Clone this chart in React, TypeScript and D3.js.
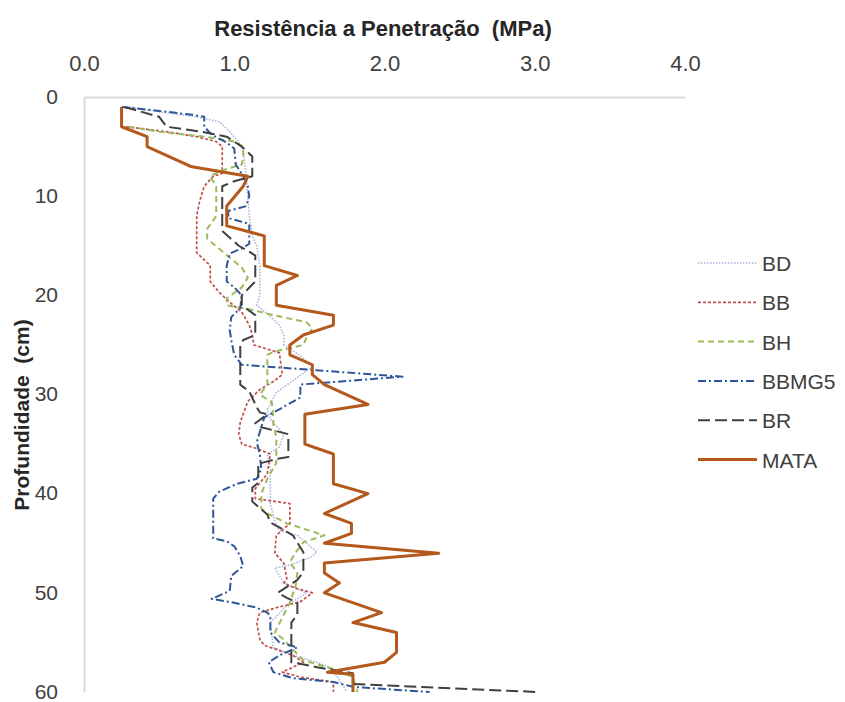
import { useRef, useEffect } from 'react';
import * as d3 from 'd3';

// depth (cm), resistance (MPa)
const BD: [number, number][] = [
  [1, 0.3], [1.5, 0.5], [2, 0.75], [2.5, 0.9], [3.5, 0.97], [4.5, 1.03], [5.5, 1.06], [8, 1.08],
  [12, 1.1], [14, 1.12], [15, 1.15], [17, 1.17], [20, 1.17], [21, 1.15], [22, 1.23], [23, 1.3],
  [24, 1.33], [25, 1.33], [26, 1.43], [27.2, 1.52], [28.5, 1.4], [29.8, 1.28], [31.5, 1.22],
  [32.5, 1.24], [34, 1.33], [35.3, 1.3], [36, 1.22], [37.5, 1.24], [41, 1.24], [42.8, 1.27],
  [43.7, 1.3], [44.2, 1.42], [45.9, 1.55], [46.5, 1.5], [47.2, 1.37], [47.5, 1.27], [49, 1.33],
  [50, 1.48], [51.3, 1.35], [53, 1.24], [55.5, 1.26], [56.3, 1.39], [57, 1.55], [57.6, 1.65],
  [60, 1.75],
];

const BB: [number, number][] = [
  [3, 0.28], [3.5, 0.55], [4, 0.75], [4.5, 0.88], [5, 0.92], [7.7, 0.92], [8, 0.86], [9, 0.8],
  [10.5, 0.77], [12, 0.75], [15.7, 0.75], [17, 0.84], [18.6, 0.84], [19.7, 0.9], [20.7, 0.97],
  [21.7, 1.05], [23, 1.1], [24, 1.12], [25, 1.13], [25.8, 1.3], [28, 1.32], [28.7, 1.26],
  [29.5, 1.17], [30.7, 1.09], [32.8, 1.04], [34, 1.03], [35, 1.05], [35.4, 1.14], [36, 1.24],
  [38, 1.22], [39.5, 1.14], [40.5, 1.14], [41, 1.37], [43, 1.37], [44.2, 1.28], [46, 1.27],
  [47, 1.33], [48.6, 1.35], [49, 1.33], [49.5, 1.4], [50, 1.52], [50.9, 1.44], [51.5, 1.28],
  [52, 1.17], [53, 1.15], [54.7, 1.17], [55.3, 1.2], [55.7, 1.28], [56.3, 1.39], [57, 1.46],
  [58, 1.32], [58.5, 1.44], [59, 1.66], [60, 1.66],
];

const BH: [number, number][] = [
  [3, 0.3], [3.5, 0.5], [4, 0.8], [4.5, 1.0], [5, 1.06], [6, 1.06], [6.8, 1.05], [7.5, 0.9],
  [8, 0.84], [9, 0.88], [12, 0.88], [13.3, 0.82], [14.3, 0.82], [15.3, 0.9], [16.2, 0.97],
  [17.2, 1.05], [18.2, 1.09], [19.2, 1.05], [20.3, 0.95], [21, 0.95], [21.4, 1.1], [22, 1.26],
  [22.7, 1.48], [23.3, 1.52], [24.3, 1.48], [25, 1.46], [25.7, 1.26], [26, 1.22], [29, 1.22],
  [30, 1.17], [30.8, 1.25], [32.4, 1.26], [33, 1.26], [34.3, 1.28], [36.9, 1.28], [38.5, 1.22],
  [40, 1.18], [41.5, 1.18], [42, 1.22], [43, 1.35], [44.2, 1.6], [44.9, 1.46], [45.9, 1.41],
  [46.9, 1.37], [48, 1.42], [49.2, 1.41], [51, 1.37], [52.5, 1.32], [54, 1.27], [54.7, 1.33],
  [55.4, 1.37], [56.8, 1.46], [57.6, 1.64], [58.5, 1.79], [60, 1.82],
];

const BBMG5: [number, number][] = [
  [1, 0.25], [1.4, 0.5], [1.8, 0.72], [2, 0.8], [3, 0.8], [3.8, 0.85], [4.6, 0.95], [5.2, 1.0],
  [6.8, 1.01], [8, 1.06], [9, 1.09], [10, 1.1], [11, 1.08], [11.5, 0.96], [12.2, 0.96],
  [12.8, 1.1], [14.8, 1.1], [15.2, 1.06], [15.8, 0.97], [17, 0.95], [18.6, 0.95], [19.2, 1.0],
  [20, 1.05], [21.3, 1.04], [22.2, 0.98], [23.5, 0.97], [24.5, 0.98], [26, 1.0], [27, 1.05],
  [27.5, 1.5], [28.2, 2.12], [29, 1.44], [30.3, 1.44], [31.5, 1.3], [32.3, 1.2], [34.8, 1.15],
  [36, 1.17], [37.5, 1.18], [38.5, 1.15], [39, 1.02], [39.8, 0.9], [40.5, 0.86], [44.5, 0.86],
  [44.8, 0.95], [45.3, 1.0], [46.3, 1.04], [47.3, 1.06], [48.3, 0.98], [49.8, 0.97], [50.6, 0.85],
  [51, 1.0], [51.5, 1.15], [52, 1.22], [52.3, 1.24], [54, 1.24], [55, 1.3], [55.5, 1.42],
  [56.3, 1.3], [57, 1.23], [58, 1.26], [58.6, 1.39], [59, 1.66], [59.5, 1.8], [60, 2.3],
];

const BR: [number, number][] = [
  [1, 0.27], [2, 0.5], [3, 0.55], [3.5, 0.78], [4, 0.95], [5, 1.05], [6, 1.12], [8, 1.12],
  [8.5, 1.0], [9, 0.92], [13.5, 0.92], [15, 1.03], [15.6, 1.1], [16, 1.14], [18.6, 1.14],
  [20, 1.05], [21, 1.05], [22, 1.14], [24, 1.14], [24.5, 1.06], [25, 1.04], [29, 1.04],
  [29.7, 1.1], [31.3, 1.15], [31.8, 1.17], [32, 1.22], [32.9, 1.14], [33.3, 1.18], [34, 1.36],
  [36.3, 1.36], [36.5, 1.28], [37, 1.16], [38.9, 1.16], [39.4, 1.12], [40.8, 1.12], [42.1, 1.22],
  [42.9, 1.24], [43.4, 1.3], [44.2, 1.39], [45.9, 1.46], [47.9, 1.46], [48.7, 1.42], [50, 1.29],
  [50.5, 1.35], [51, 1.42], [52.2, 1.42], [53, 1.38], [57, 1.38], [57.1, 1.42], [57.5, 1.55],
  [58.1, 1.79], [59.2, 1.79], [60, 3.02],
];

const MATA: [number, number][] = [
  [1, 0.25], [3, 0.25], [4, 0.42], [5, 0.42], [7, 0.71], [8, 1.09], [9, 1.06], [11, 0.95],
  [13, 0.95], [14, 1.2], [17, 1.2], [18, 1.42], [19, 1.28], [21, 1.28], [22, 1.66], [23, 1.66],
  [24, 1.46], [25, 1.37], [26, 1.37], [27, 1.52], [28, 1.52], [29, 1.6], [31, 1.89], [32, 1.47],
  [35, 1.47], [36, 1.66], [39, 1.66], [40, 1.89], [42, 1.6], [43, 1.78], [44, 1.78], [45, 1.6],
  [46, 2.36], [47, 1.6], [48, 1.6], [49, 1.7], [50, 1.6], [52, 1.98], [53, 1.79], [54, 2.08],
  [56, 2.08], [57, 2.0], [58, 1.62], [58.2, 1.79], [60, 1.79],
];

const seriesNames = ['BD', 'BB', 'BH', 'BBMG5', 'BR', 'MATA'];
const seriesData = [BD, BB, BH, BBMG5, BR, MATA];
const xTicks = [0, 1, 2, 3, 4];
const yTicks = [0, 10, 20, 30, 40, 50, 60];

const STYLES = [
  { color: '#a9b4dc', width: 1.6, dash: '1.5 1.5' },
  { color: '#c0504d', width: 1.7, dash: '3 2' },
  { color: '#9bbb59', width: 2, dash: '6 4' },
  { color: '#2e5597', width: 2, dash: '8 3 2 3' },
  { color: '#404040', width: 2, dash: '12 5' },
  { color: '#b4581c', width: 3, dash: null },
];

const FONT = '"Liberation Sans", Arial, sans-serif';
const TEXT = '#404040';

const App = () => {
  const xAxisRef = useRef(null);
  const yAxisRef = useRef(null);

  const left = 84;
  const right = 685;
  const top = 97;
  const bottom = 692;

  const x = d3.scaleLinear().domain([0, 4]).range([left, right]);
  const y = d3.scaleLinear().domain([0, 60]).range([top, bottom]);

  const line = d3
    .line<[number, number]>()
    .x((d) => x(d[1]))
    .y((d) => y(d[0]));

  useEffect(() => {
    const xa = d3.select(xAxisRef.current);
    xa.selectAll('*').remove();
    xa.call(
      d3.axisTop(x).tickValues(xTicks).tickSize(0).tickPadding(26).tickFormat(d3.format('.1f'))
    );
    xa.select('.domain').attr('stroke', '#d9d9d9').attr('stroke-width', 2);
    xa.selectAll('text').attr('fill', TEXT).style('font', `22px ${FONT}`);

    const ya = d3.select(yAxisRef.current);
    ya.selectAll('*').remove();
    ya.call(d3.axisLeft(y).tickValues(yTicks).tickSize(0).tickPadding(26));
    ya.select('.domain').attr('stroke', '#d9d9d9').attr('stroke-width', 2);
    ya.selectAll('text').attr('fill', TEXT).attr('dy', '0.3em').style('font', `21px ${FONT}`);
  }, []);

  return (
    <svg
      width={845}
      height={702}
      style={{ position: 'absolute', left: 0, top: 0, background: 'white' }}
    >
      <g ref={xAxisRef} transform={`translate(0,${top})`} />
      <g ref={yAxisRef} transform={`translate(${left},0)`} />

      {seriesData.map((data, i) => (
        <path
          key={seriesNames[i]}
          d={line(data) || ''}
          fill="none"
          stroke={STYLES[i].color}
          strokeWidth={STYLES[i].width}
          strokeDasharray={STYLES[i].dash || undefined}
          strokeLinejoin="round"
        />
      ))}

      <text
        x={383}
        y={36}
        textAnchor="middle"
        fill="#262626"
        style={{ font: `bold 22px ${FONT}`, whiteSpace: 'pre' }}
      >
        {'Resistência a Penetração  (MPa)'}
      </text>
      <text
        transform="translate(29,415) rotate(-90)"
        textAnchor="middle"
        fill="#262626"
        style={{ font: `bold 21px ${FONT}`, whiteSpace: 'pre' }}
      >
        {'Profundidade  (cm)'}
      </text>

      {seriesNames.map((name, i) => {
        const ly = 263 + i * 39.3;
        return (
          <g key={name}>
            <line
              x1={698}
              x2={757}
              y1={ly}
              y2={ly}
              stroke={STYLES[i].color}
              strokeWidth={STYLES[i].width}
              strokeDasharray={STYLES[i].dash || undefined}
            />
            <text x={762} y={ly + 8} fill={TEXT} style={{ font: `21px ${FONT}` }}>
              {name}
            </text>
          </g>
        );
      })}
    </svg>
  );
};

export default App;
